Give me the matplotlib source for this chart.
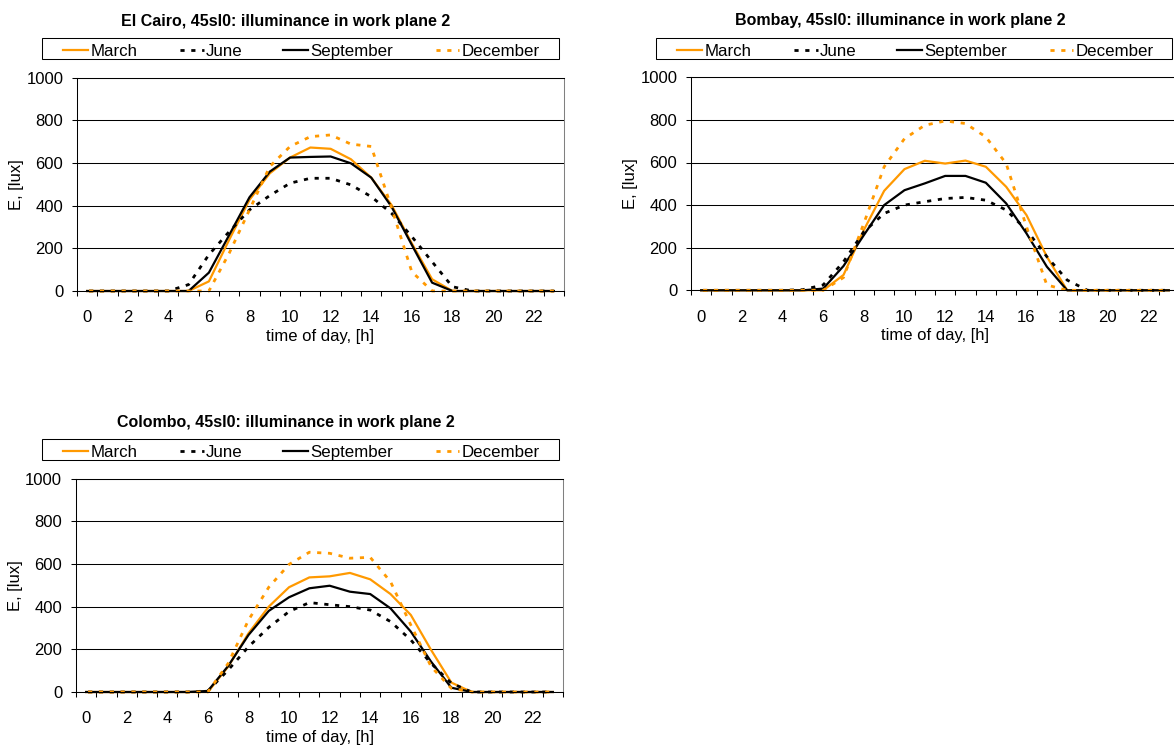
import numpy as np
import matplotlib
matplotlib.use('Agg')
import matplotlib.pyplot as plt
from matplotlib.patches import Rectangle

plt.rcParams['font.family'] = ['Liberation Sans', 'DejaVu Sans']

hours = np.arange(24)
tick_hours = np.arange(0, 24, 2)
months = ['March', 'June', 'September', 'December']

# El Cairo
cairo_march = [0, 0, 0, 0, 0, 0, 45, 240, 427, 551, 625, 672, 666, 617, 531, 403, 223, 55, 0, 0, 0, 0, 0, 0]
cairo_june = [0, 0, 0, 0, 0, 30, 170, 278, 380, 447, 505, 528, 528, 497, 442, 364, 255, 137, 20, 0, 0, 0, 0, 0]
cairo_sept = [0, 0, 0, 0, 0, 0, 86, 262, 439, 559, 625, 628, 630, 598, 531, 395, 216, 39, 0, 0, 0, 0, 0, 0]
cairo_dec = [0, 0, 0, 0, 0, 0, 0, 177, 380, 583, 677, 723, 731, 688, 677, 390, 90, 0, 0, 0, 0, 0, 0, 0]

# Bombay
bombay_march = [0, 0, 0, 0, 0, 0, 0, 72, 283, 467, 569, 608, 595, 609, 580, 486, 353, 158, 0, 0, 0, 0, 0, 0]
bombay_june = [0, 0, 0, 0, 0, 3, 25, 134, 275, 361, 400, 416, 431, 436, 423, 377, 283, 158, 48, 0, 0, 0, 0, 0]
bombay_sept = [0, 0, 0, 0, 0, 0, 8, 114, 259, 400, 470, 502, 537, 537, 505, 408, 267, 111, 0, 0, 0, 0, 0, 0]
bombay_dec = [0, 0, 0, 0, 0, 0, 0, 60, 314, 580, 712, 775, 795, 783, 720, 595, 298, 25, 0, 0, 0, 0, 0, 0]

# Colombo
colombo_march = [0, 0, 0, 0, 0, 0, 0, 119, 275, 400, 491, 537, 542, 558, 528, 459, 361, 197, 44, 0, 0, 0, 0, 0]
colombo_june = [0, 0, 0, 0, 0, 0, 5, 103, 212, 303, 377, 419, 409, 400, 384, 330, 244, 134, 41, 0, 0, 0, 0, 0]
colombo_sept = [0, 0, 0, 0, 0, 0, 5, 122, 267, 380, 444, 486, 498, 470, 459, 392, 283, 142, 20, 0, 0, 0, 0, 0]
colombo_dec = [0, 0, 0, 0, 0, 0, 0, 134, 337, 491, 598, 655, 650, 627, 631, 517, 314, 119, 17, 0, 0, 0, 0, 0]

W, H = 1174, 749
ORANGE = '#FF9900'
DOT = (3.2, (1.5, 2.4))
styles = [
    dict(color=ORANGE, linestyle='-', linewidth=1.6),
    dict(color='black', linestyle=DOT, linewidth=2.0),
    dict(color='black', linestyle='-', linewidth=1.6),
    dict(color=ORANGE, linestyle=DOT, linewidth=2.0),
]


def fx(px):
    return px / W


def fy(py):
    return 1 - py / H


def draw_panel(fig, rect, title, series, title_x, box):
    left, top, right, bottom = rect
    ax = fig.add_axes([fx(left), fy(bottom), (right - left) / W, (bottom - top) / H])

    lines = []
    for vals, st in zip(series, styles):
        ln, = ax.plot(hours, vals, clip_on=False, **st)
        lines.append(ln)

    ax.set_xlim(-0.5, 23.5)
    ax.set_ylim(0, 1000)
    ax.set_yticks(range(0, 1001, 200))
    ax.set_xticks(tick_hours)
    ax.set_xticklabels([str(h) for h in tick_hours])
    ax.set_xticks(np.arange(-0.5, 24, 1), minor=True)
    ax.tick_params(axis='x', which='major', length=0, pad=14, labelsize=12)
    ax.tick_params(axis='x', which='minor', length=3.6, width=0.75, direction='out')
    ax.tick_params(axis='y', length=3.6, width=0.75, pad=6.3, labelsize=12)
    ax.grid(axis='y', color='black', linewidth=0.75)
    for s in ['left', 'bottom', 'top']:
        ax.spines[s].set_linewidth(0.75)
    ax.spines['right'].set_color('#808080')
    ax.spines['right'].set_linewidth(0.75)

    ax.set_xlabel('time of day, [h]', fontsize=12)
    ax.set_ylabel('E, [lux]', fontsize=12)
    ax.xaxis.set_label_coords(0.5, -0.178)
    ax.yaxis.set_label_coords(-0.109, 0.5)

    # title and legend above the plot area
    bx0, by0, bx1, by1 = box
    fig.text(fx(title_x), fy(by0 - 12.6), title, ha='center', va='baseline',
             fontsize=11.5, fontweight='bold')
    fig.add_artist(Rectangle((fx(bx0), fy(by1)), (bx1 - bx0) / W, (by1 - by0) / H,
                             transform=fig.transFigure, facecolor='none',
                             edgecolor='black', linewidth=0.75))
    ax.legend(lines, months, ncol=4, loc='center left',
              bbox_to_anchor=(fx(bx0 + 21), fy(by0 + 13.5)),
              bbox_transform=fig.transFigure, frameon=False, borderpad=0,
              borderaxespad=0, handlelength=1.5, handletextpad=0.12,
              columnspacing=2.4, fontsize=12.2)
    return ax


fig = plt.figure(figsize=(W / 100, H / 100), dpi=100)

draw_panel(fig, (77, 77.5, 564, 291), 'El Cairo, 45sl0: illuminance in work plane 2',
           [cairo_march, cairo_june, cairo_sept, cairo_dec], 286, (42, 38.3, 559, 59.3))
draw_panel(fig, (691, 77.3, 1179, 290.3), 'Bombay, 45sl0: illuminance in work plane 2',
           [bombay_march, bombay_june, bombay_sept, bombay_dec], 900, (656, 38.1, 1172, 59.1))
draw_panel(fig, (76, 478.6, 563, 692), 'Colombo, 45sl0: illuminance in work plane 2',
           [colombo_march, colombo_june, colombo_sept, colombo_dec], 286, (42, 439.4, 559, 460.4))

fig.savefig('out.png', dpi=100)
